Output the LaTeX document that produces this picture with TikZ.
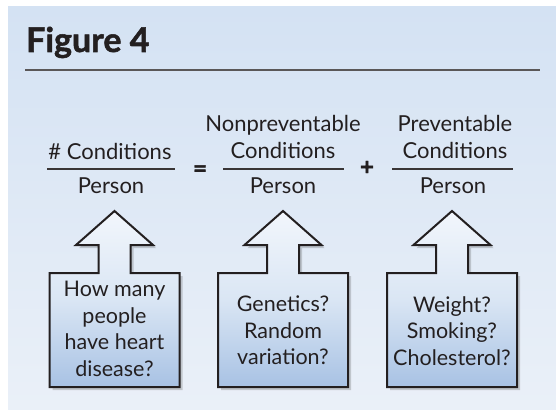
\documentclass[tikz,border=0pt]{standalone}
\usepackage{fontspec}
\setmainfont{Lato}
\newfontfamily\titlefont[BoldFeatures={FakeBold=1.5}]{Lato}
\usetikzlibrary{shadows}
\definecolor{ink}{HTML}{231F20}
\definecolor{paneltop}{HTML}{D4E2F3}
\definecolor{panelbot}{HTML}{EAF0F8}
\definecolor{tipcol}{HTML}{F2F6FC}
\definecolor{midcol}{HTML}{DAE6F4}
\definecolor{botcol}{HTML}{A8C2E4}
\tikzset{
  txt/.style={text=ink, font=\fontsize{22}{26.5}\selectfont, inner sep=0pt, anchor=base},
  optxt/.style={text=ink, font=\fontsize{24}{24}\titlefont\bfseries, inner sep=0pt, anchor=center},
  boxtxt/.style={text=ink, font=\fontsize{21.5}{26.5}\selectfont, inner sep=0pt, align=center, anchor=north},
  fracline/.style={draw=ink!90, line width=1.4pt},
  arrowbox/.style={draw=ink, line width=2pt, line join=miter, top color=tipcol, bottom color=botcol, middle color=midcol,
    drop shadow={shadow xshift=3pt, shadow yshift=-3pt, opacity=0.25, fill=black!70}},
}
\begin{document}
\begin{tikzpicture}[x=1pt,y=-1pt]
\useasboundingbox (0,0) rectangle (556,409);
\fill[white] (0,0) rectangle (556,409);
\shade[top color=paneltop, bottom color=panelbot] (8,7) rectangle (556,409);
\node[anchor=base west, inner sep=0pt, text=ink, font=\fontsize{34}{34}\titlefont\bfseries] (title) at (26,52) {Figure 4};
\draw[line width=1.6pt, draw=ink!75] (25,70) -- (540,70);
% fractions
\node[txt] (n1) at (110,159) {\# Conditions};
\node[txt] (d1) at (111,193) {Person};
\draw[fracline] (47,169) -- (175,169);
\node[optxt] (eq) at (200,171) {=};
\node[txt] (n2a) at (283,131) {Nonpreventable};
\node[txt] (n2b) at (283,158) {Conditions};
\node[txt] (d2) at (283,193) {Person};
\draw[fracline] (223,169) -- (344,169);
\node[optxt] (plus) at (367,168) {+};
\node[txt] (n3a) at (455,131) {Preventable};
\node[txt] (n3b) at (455,158) {Conditions};
\node[txt] (d3) at (453,193) {Person};
\draw[fracline] (392,169) -- (513,169);
% arrows with boxes
\foreach \cx/\nm in {114.5/a, 283/b, 452/c}{
  \path[arrowbox] (\cx-65,387) -- (\cx-65,273) -- (\cx-16,273) -- (\cx-16,245) -- (\cx-38.5,245) -- (\cx,211)
     -- (\cx+38.5,245) -- (\cx+16,245) -- (\cx+16,273) -- (\cx+65,273) -- (\cx+65,387) -- cycle;
}
\node[boxtxt] (b1) at (114.5,281) {How many\\people\\have heart\\disease?};
\node[boxtxt] (b2) at (283,296) {Genetics?\\Random\\variation?};
\node[boxtxt] (b3) at (452,296) {Weight?\\Smoking?\\Cholesterol?};
\end{tikzpicture}
\end{document}
